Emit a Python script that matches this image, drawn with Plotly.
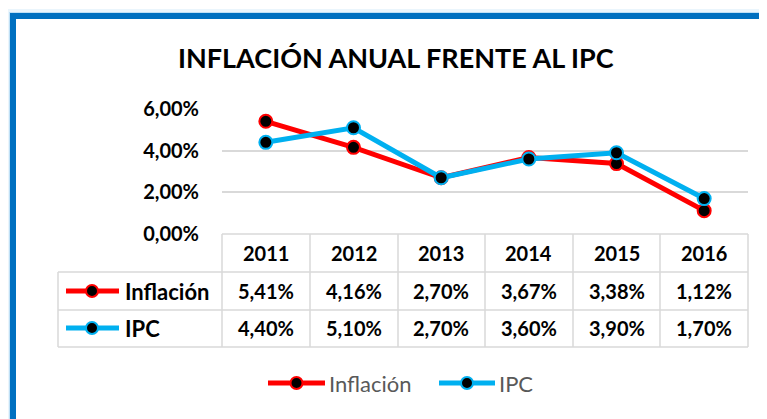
import plotly.graph_objects as go

years = ["2011", "2012", "2013", "2014", "2015", "2016"]
inflacion = [5.41, 4.16, 2.70, 3.67, 3.38, 1.12]
ipc = [4.40, 5.10, 2.70, 3.60, 3.90, 1.70]
series_names = ["Inflación", "IPC"]
series_colors = ["#FF0000", "#00B0F0"]
y_ticks = [0, 0.02, 0.04, 0.06]
title_text = "INFLACIÓN ANUAL FRENTE AL IPC"

OFF = 8  # page body margin in the browser
W, H = 767 - OFF, 419 - OFF
RX0, RX1, RY0, RY1 = 222, 748, 109, 234  # plot area in screenshot pixels

FONT = "Lato, 'Open Sans', sans-serif"


def fx(px):
    return (px - RX0) / (RX1 - RX0)


def fy(py):
    return (RY1 - py) / (RY1 - RY0)


def fmt(v):
    return f"{v:.2f}".replace(".", ",") + "%"


fig = go.Figure()
for name, vals, col in zip(series_names, [inflacion, ipc], series_colors):
    fig.add_trace(go.Scatter(
        x=years, y=[v / 100 for v in vals], name=name, mode="lines+markers",
        line=dict(color=col, width=5),
        marker=dict(size=13, color="black", line=dict(color=col, width=2)),
        cliponaxis=False, showlegend=False,
    ))

shapes = []
annotations = []
grid = "#D9D9D9"


def txt(x, y, text, size, color="black", xanchor="center", xref="paper"):
    annotations.append(dict(x=x, xref=xref, y=y, yref="paper", text=text, showarrow=False,
                            xanchor=xanchor, yanchor="middle",
                            font=dict(family=FONT, size=size, color=color)))


# outer frame with glow
for off, col, w in [(5, "#EAF5FC", 4), (2.5, "#BFE0F6", 3)]:
    shapes.append(dict(type="rect", xref="paper", yref="paper",
                       x0=fx(13 - off), x1=fx(800), y0=fy(16 - off), y1=fy(450),
                       line=dict(color=col, width=w), layer="below"))
shapes.append(dict(type="rect", xref="paper", yref="paper",
                   x0=fx(13), x1=fx(800), y0=fy(16), y1=fy(450),
                   line=dict(color="#0070C0", width=6), layer="below"))

# table geometry
col_edges = [222, 310, 398, 485, 573, 660, 748]
row_edges = [234, 272, 310, 347]
label_left = 58
lw = 1.5
shapes.append(dict(type="line", xref="paper", yref="paper", x0=fx(222), x1=fx(748),
                   y0=fy(234), y1=fy(234), line=dict(color=grid, width=lw)))
for ry in row_edges[1:]:
    shapes.append(dict(type="line", xref="paper", yref="paper", x0=fx(label_left), x1=fx(748),
                       y0=fy(ry), y1=fy(ry), line=dict(color=grid, width=lw)))
for cx in col_edges:
    shapes.append(dict(type="line", xref="paper", yref="paper", x0=fx(cx), x1=fx(cx),
                       y0=fy(234), y1=fy(347), line=dict(color=grid, width=lw)))
shapes.append(dict(type="line", xref="paper", yref="paper", x0=fx(label_left), x1=fx(label_left),
                   y0=fy(272), y1=fy(347), line=dict(color=grid, width=lw)))

# header labels
for i, yr in enumerate(years):
    txt(i, fy(253), f"<b>{yr}</b>", 20, xref="x")

row_centers = [291, 328]
for r, (name, vals, col) in enumerate(zip(series_names, [inflacion, ipc], series_colors)):
    cy = row_centers[r]
    for i, v in enumerate(vals):
        txt(i, fy(cy), f"<b>{fmt(v)}</b>", 20, xref="x")
    shapes.append(dict(type="line", xref="paper", yref="paper", x0=fx(66), x1=fx(119),
                       y0=fy(cy), y1=fy(cy), line=dict(color=col, width=5)))
    shapes.append(dict(type="circle", xref="paper", yref="paper", x0=fx(86), x1=fx(98),
                       y0=fy(cy - 6), y1=fy(cy + 6), fillcolor="black", line=dict(color=col, width=2)))
    txt(fx(123), fy(cy), f"<b>{name}</b>", 22, xanchor="left")

# bottom legend
leg = [(268, 325), (439, 495)]
for (x0, x1), name, col in zip(leg, series_names, series_colors):
    cy = 383
    shapes.append(dict(type="line", xref="paper", yref="paper", x0=fx(x0), x1=fx(x1),
                       y0=fy(cy), y1=fy(cy), line=dict(color=col, width=5)))
    xm = (x0 + x1) / 2
    shapes.append(dict(type="circle", xref="paper", yref="paper", x0=fx(xm - 6), x1=fx(xm + 6),
                       y0=fy(cy - 6), y1=fy(cy + 6), fillcolor="black", line=dict(color=col, width=2)))
    txt(fx(x1 + 2), fy(cy), name, 22, color="#595959", xanchor="left")

# title
txt(fx(396), fy(57), f"<b>{title_text}</b>", 27)

fig.update_layout(
    width=W, height=H,
    margin=dict(l=RX0 - OFF, r=W - (RX1 - OFF), t=RY0 - OFF, b=H - (RY1 - OFF), pad=0),
    paper_bgcolor="white", plot_bgcolor="white",
    separators=",.",
    shapes=shapes, annotations=annotations,
    xaxis=dict(type="category", range=[-0.5, 5.5], showticklabels=False, showgrid=False,
               zeroline=False, showline=False, fixedrange=True),
    yaxis=dict(range=[0, 0.06], tickvals=y_ticks, tickformat=".2%", showgrid=True,
               gridcolor=grid, gridwidth=1.5, zeroline=False, showline=False,
               ticklabelstandoff=22, fixedrange=True,
               tickfont=dict(family=FONT, size=20, color="black", weight="bold")),
)

fig.write_html("out.html")
